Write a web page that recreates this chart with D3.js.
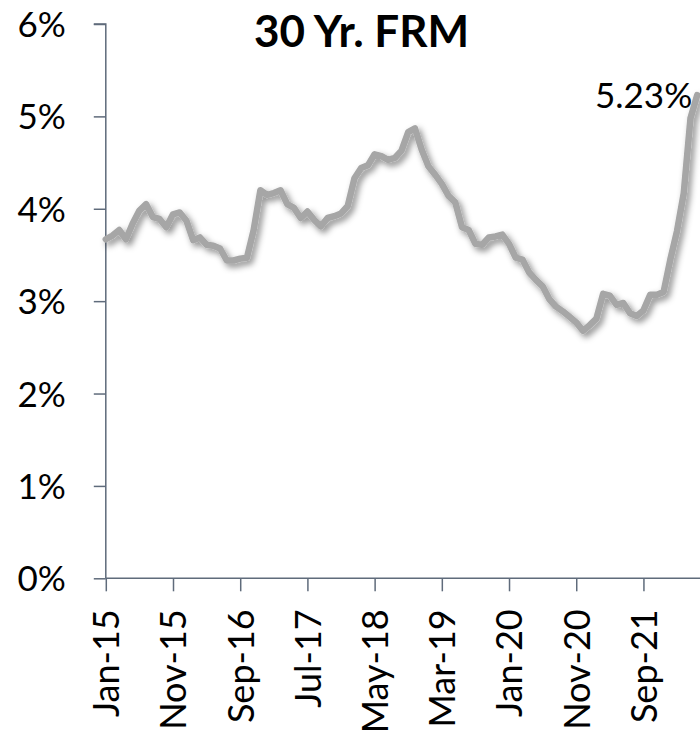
<!DOCTYPE html>
<html>
<head>
<meta charset="utf-8">
<script src="https://cdn.jsdelivr.net/npm/d3@7/dist/d3.min.js"></script>
<style>
  html, body { margin: 0; padding: 0; background: #fff; }
  svg { display: block; }
</style>
</head>
<body>
<svg id="chart" width="700" height="739"></svg>
<script>
// Monthly 30-year fixed mortgage rate, Jan-15 .. May-22 (%)
const monthNames = ["Jan","Feb","Mar","Apr","May","Jun","Jul","Aug","Sep","Oct","Nov","Dec"];
const startYear = 2015;
const rates = [
  3.67, 3.71, 3.77, 3.67, 3.84, 3.98, 4.05, 3.91, 3.89, 3.80, 3.94, 3.96,
  3.87, 3.66, 3.69, 3.61, 3.60, 3.57, 3.44, 3.44, 3.46, 3.47, 3.77, 4.20,
  4.15, 4.17, 4.20, 4.05, 4.01, 3.90, 3.97, 3.88, 3.81, 3.90, 3.92, 3.95,
  4.03, 4.33, 4.44, 4.47, 4.59, 4.57, 4.53, 4.55, 4.63, 4.83, 4.87, 4.64,
  4.46, 4.37, 4.27, 4.14, 4.07, 3.80, 3.77, 3.62, 3.61, 3.69, 3.70, 3.72,
  3.62, 3.47, 3.45, 3.31, 3.23, 3.16, 3.02, 2.94, 2.89, 2.83, 2.77, 2.68,
  2.74, 2.81, 3.08, 3.06, 2.96, 2.98, 2.87, 2.84, 2.90, 3.07, 3.07, 3.10,
  3.45, 3.76, 4.17, 4.98, 5.23
];
const categories = rates.map((_, i) => {
  const y = startYear + Math.floor(i / 12);
  return monthNames[i % 12] + "-" + String(y).slice(2);
});
const tickLabels = ["Jan-15","Nov-15","Sep-16","Jul-17","May-18","Mar-19","Jan-20","Nov-20","Sep-21"];
const yTicks = [0, 1, 2, 3, 4, 5, 6];
const title = "30 Yr. FRM";
const lastLabel = "5.23%";

const svg = d3.select("#chart");
const font = "Lato, 'Open Sans', sans-serif";
const axisColor = "#5f6b7b";

const x = d3.scalePoint().domain(categories).range([105.8, 697.2]);
const y = d3.scaleLinear().domain([0, 6]).range([578.3, 24]);

// drop shadow filter
const defs = svg.append("defs");
const f = defs.append("filter").attr("id", "shadow")
  .attr("x", "-10%").attr("y", "-10%").attr("width", "130%").attr("height", "130%");
f.append("feDropShadow").attr("dx", 3).attr("dy", 3.5).attr("stdDeviation", 3)
  .attr("flood-color", "#000").attr("flood-opacity", 0.45);

// Y axis
const yAxis = d3.axisLeft(y).tickValues(yTicks).tickFormat(d => d + "%").tickSize(12).tickPadding(28);
const gy = svg.append("g").attr("transform", "translate(105.8,0)").call(yAxis);
gy.select(".domain").attr("stroke", axisColor).attr("stroke-width", 1.5).attr("d", `M-12,${y(6)}H0V${y(0)}`);
gy.selectAll(".tick line").attr("stroke", axisColor).attr("stroke-width", 1.5);
gy.selectAll(".tick text").attr("font-family", font).attr("font-size", 35).attr("fill", "#000")
  .attr("dy", "0.36em");

// X axis
const xAxis = d3.axisBottom(x).tickValues(tickLabels).tickSize(13).tickPadding(0);
const gx = svg.append("g").attr("transform", `translate(0,${y(0)})`).call(xAxis);
gx.select(".domain").attr("stroke", axisColor).attr("stroke-width", 1.5).attr("d", `M${x(categories[0])},0H700`);
gx.selectAll(".tick line").attr("stroke", axisColor).attr("stroke-width", 1.5);
gx.selectAll(".tick text")
  .attr("font-family", font).attr("font-size", 36).attr("fill", "#000")
  .attr("text-anchor", "end")
  .attr("transform", "translate(0,31) rotate(-90)")
  .attr("x", 0).attr("y", 0).attr("dy", "0.36em");

// Line
const line = d3.line().x((d, i) => x(categories[i])).y(d => y(d));
svg.append("path").datum(rates)
  .attr("d", line)
  .attr("fill", "none")
  .attr("stroke", "#a6a6a6")
  .attr("stroke-width", 6.5)
  .attr("stroke-linejoin", "round")
  .attr("stroke-linecap", "round")
  .attr("filter", "url(#shadow)");

// Last value label
const li = rates.length - 1;
svg.append("text")
  .attr("x", x(categories[li]) - 5)
  .attr("y", y(rates[li]))
  .attr("dy", "0.38em")
  .attr("text-anchor", "end")
  .attr("font-family", font).attr("font-size", 35).attr("fill", "#000")
  .text(lastLabel);

// Title
svg.append("text")
  .attr("x", 361.5).attr("y", 47)
  .attr("text-anchor", "middle")
  .attr("font-family", font).attr("font-weight", 700).attr("font-size", 44).attr("fill", "#000")
  .text(title);
</script>
</body>
</html>
